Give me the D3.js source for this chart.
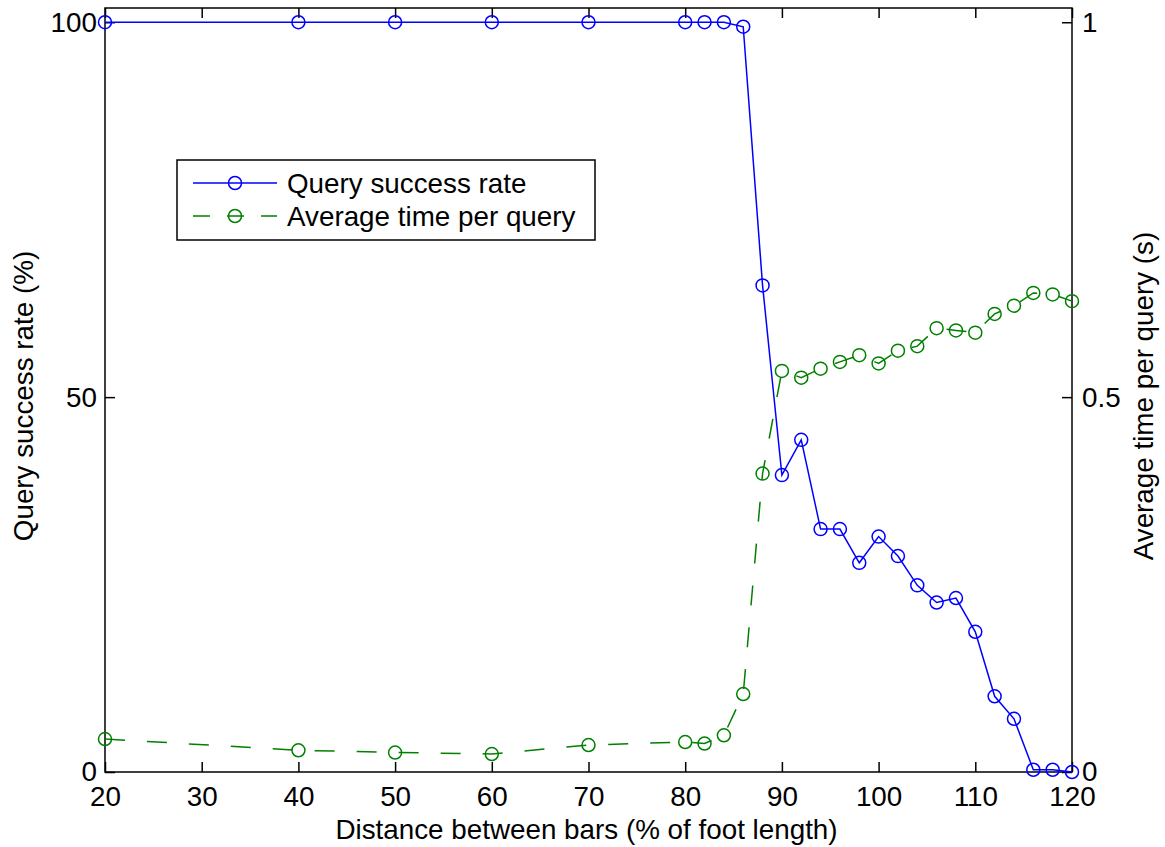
<!DOCTYPE html>
<html>
<head>
<meta charset="utf-8">
<script src="https://cdn.jsdelivr.net/npm/d3@7"></script>
<style>
  body { margin: 0; background: #fff; }
  text { font-family: "Liberation Sans", Arial, sans-serif; }
</style>
</head>
<body>
<script>
// distance between bars (% of foot length)
const distances = [20, 40, 50, 60, 70, 80, 82, 84, 86, 88, 90, 92, 94, 96, 98, 100,
  102, 104, 106, 108, 110, 112, 114, 116, 118, 120];
// query success rate (%)
const successRate = [100, 100, 100, 100, 100, 100, 100, 100, 99.4, 64.9, 39.6, 44.3, 32.4, 32.4,
  27.9, 31.4, 28.8, 24.9, 22.6, 23.2, 18.7, 10.1, 7.1, 0.3, 0.3, 0];
// average time per query (s)
const avgTime = [0.044, 0.029, 0.026, 0.024, 0.036, 0.040, 0.038, 0.049, 0.104, 0.398, 0.535,
  0.526, 0.538, 0.547, 0.556, 0.545, 0.562, 0.568, 0.592, 0.589, 0.586, 0.611, 0.622,
  0.639, 0.637, 0.628];

const xTicks = [20, 30, 40, 50, 60, 70, 80, 90, 100, 110, 120];
const leftTicks = [0, 50, 100];
const rightTicks = [0, 0.5, 1];
const legendLabels = ["Query success rate", "Average time per query"];

const WIDTH = 1165, HEIGHT = 847;
const mLeft = 105, mRight = 1072, mTop = 8, mBottom = 772;
const FS = 27.8;

const svg = d3.select('body').append('svg')
  .attr('width', WIDTH).attr('height', HEIGHT);

const x = d3.scaleLinear().domain([20, 120]).range([mLeft, mRight]);
const yL = d3.scaleLinear().domain([0, 101.9]).range([mBottom, mTop]);
const yR = d3.scaleLinear().domain([0, 1.019]).range([mBottom, mTop]);

// axes
function styleAxis(g) {
  g.select('.domain').remove();
  g.selectAll('.tick line').attr('stroke', '#000').attr('stroke-width', 1.5);
  g.selectAll('.tick text').attr('fill', '#000').style('font-size', FS + 'px')
    .style('font-family', '"Liberation Sans", Arial, sans-serif');
}

svg.append('g').attr('transform', `translate(0,${mBottom})`)
  .call(d3.axisBottom(x).tickValues(xTicks).tickFormat(d3.format('d')).tickSize(-10).tickPadding(14))
  .call(styleAxis);
svg.append('g').attr('transform', `translate(0,${mTop})`)
  .call(d3.axisTop(x).tickValues(xTicks).tickFormat('').tickSize(-10))
  .call(styleAxis);
svg.append('g').attr('transform', `translate(${mLeft},0)`)
  .call(d3.axisLeft(yL).tickValues(leftTicks).tickFormat(d3.format('d')).tickSize(-10).tickPadding(8))
  .call(styleAxis);
svg.append('g').attr('transform', `translate(${mRight},0)`)
  .call(d3.axisRight(yR).tickValues(rightTicks).tickFormat(d => d === 0.5 ? '0.5' : d3.format('d')(d)).tickSize(-10).tickPadding(10))
  .call(styleAxis);

// frame
svg.append('rect')
  .attr('x', mLeft).attr('y', mTop)
  .attr('width', mRight - mLeft).attr('height', mBottom - mTop)
  .attr('fill', 'none').attr('stroke', '#000').attr('stroke-width', 1.5);

// blue series
const blue = '#0000ff', green = '#008000';
const lineL = d3.line().x((d, i) => x(distances[i])).y(d => yL(d));
const lineR = d3.line().x((d, i) => x(distances[i])).y(d => yR(d));

svg.append('path').datum(successRate)
  .attr('d', lineL).attr('fill', 'none').attr('stroke', blue).attr('stroke-width', 1.5);
svg.append('g').selectAll('circle').data(successRate).enter().append('circle')
  .attr('cx', (d, i) => x(distances[i])).attr('cy', d => yL(d)).attr('r', 6.5)
  .attr('fill', 'none').attr('stroke', blue).attr('stroke-width', 1.5);

// green series
svg.append('path').datum(avgTime)
  .attr('d', lineR).attr('fill', 'none').attr('stroke', green).attr('stroke-width', 1.5)
  .attr('stroke-dasharray', '20,22');
svg.append('g').selectAll('circle').data(avgTime).enter().append('circle')
  .attr('cx', (d, i) => x(distances[i])).attr('cy', d => yR(d)).attr('r', 6.5)
  .attr('fill', 'none').attr('stroke', green).attr('stroke-width', 1.5);

// axis labels
svg.append('text').attr('x', (mLeft + mRight) / 2 - 2).attr('y', 839)
  .attr('text-anchor', 'middle').style('font-size', FS + 'px')
  .text('Distance between bars (% of foot length)');
svg.append('text').attr('transform', 'translate(33,396) rotate(-90)')
  .attr('text-anchor', 'middle').style('font-size', FS + 'px')
  .text('Query success rate (%)');
svg.append('text').attr('transform', 'translate(1153,396) rotate(-90)')
  .attr('text-anchor', 'middle').style('font-size', FS + 'px')
  .text('Average time per query (s)');

// legend
const legend = svg.append('g');
legend.append('rect').attr('x', 177).attr('y', 160).attr('width', 418).attr('height', 80)
  .attr('fill', '#fff').attr('stroke', '#000').attr('stroke-width', 1.5);
const legRows = [
  { label: legendLabels[0], color: blue, dash: null, y: 183 },
  { label: legendLabels[1], color: green, dash: '17,17', y: 216 }
];
legRows.forEach(r => {
  legend.append('line').attr('x1', 193).attr('x2', 277).attr('y1', r.y).attr('y2', r.y)
    .attr('stroke', r.color).attr('stroke-width', 1.5)
    .attr('stroke-dasharray', r.dash);
  legend.append('circle').attr('cx', 235).attr('cy', r.y).attr('r', 6.5)
    .attr('fill', 'none').attr('stroke', r.color).attr('stroke-width', 1.5);
  legend.append('text').attr('x', 287).attr('y', r.y + 10)
    .style('font-size', FS + 'px').text(r.label);
});
</script>
</body>
</html>
